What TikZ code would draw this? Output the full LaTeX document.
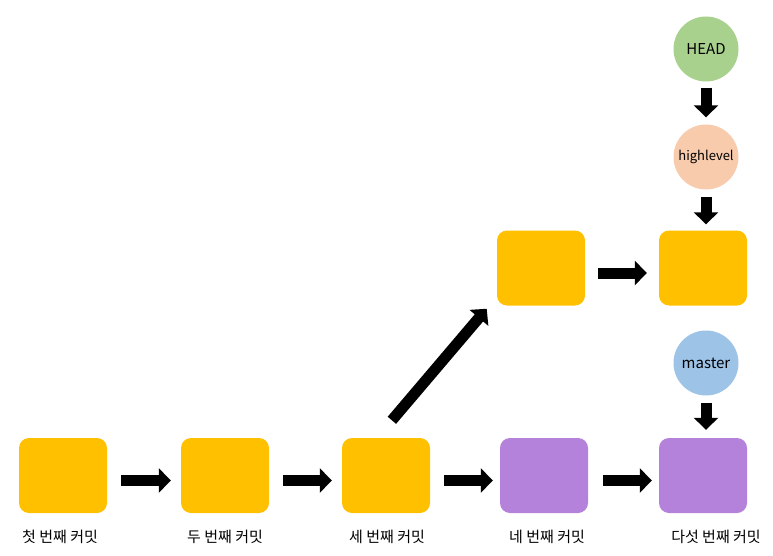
\documentclass[tikz,border=0pt]{standalone}
\usepackage{fontspec}
\setmainfont{Noto Sans CJK KR}
\usetikzlibrary{arrows.meta}
\definecolor{cOrange}{HTML}{FFC000}
\definecolor{cPurple}{HTML}{B482DA}
\definecolor{cGreen}{HTML}{A9D18E}
\definecolor{cPeach}{HTML}{F8CBAD}
\definecolor{cBlue}{HTML}{9DC3E6}
\tikzset{
  commit/.style={rounded corners=10pt, minimum width=88pt, minimum height=75pt, inner sep=0pt, draw=none},
  orangebox/.style={commit, fill=cOrange},
  purplebox/.style={commit, fill=cPurple},
  refcircle/.style={circle, minimum size=65pt, inner sep=0pt, draw=none, font=\fontsize{15pt}{17pt}\selectfont},
  lbl/.style={font=\fontsize{15pt}{17pt}\selectfont, inner sep=0pt},
  blockarrow/.style={line width=11pt, -{Triangle[length=12pt,width=24pt]}},
}
\begin{document}
\begin{tikzpicture}[x=1pt,y=-1pt]
\useasboundingbox (0,0) rectangle (773,556);
% commits
\node[orangebox] (c1) at (63,475.5) {};
\node[orangebox] (c2) at (225,475.5) {};
\node[orangebox] (c3) at (386,475.5) {};
\node[purplebox] (c4) at (544,475.5) {};
\node[purplebox] (c5) at (703,475.5) {};
\node[orangebox] (t1) at (541,268) {};
\node[orangebox] (t2) at (703,268) {};
% refs
\node[refcircle, fill=cGreen] (head) at (706,49) {HEAD};
\node[refcircle, fill=cPeach, font=\fontsize{13pt}{15pt}\selectfont] (hl) at (706,157) {highlevel};
\node[refcircle, fill=cBlue] (master) at (706,363) {master};
% labels
\node[lbl] (l1) at (60,537) {첫 번째 커밋};
\node[lbl] (l2) at (225,537) {두 번째 커밋};
\node[lbl] (l3) at (387,537) {세 번째 커밋};
\node[lbl] (l4) at (547,537) {네 번째 커밋};
\node[lbl] (l5) at (716,537) {다섯 번째 커밋};
% arrows
\draw[blockarrow, shorten <=14pt, shorten >=10pt] ([yshift=-5pt]c1.east) -- ([yshift=-5pt]c2.west);
\draw[blockarrow, shorten <=14pt, shorten >=10pt] ([yshift=-5pt]c2.east) -- ([yshift=-5pt]c3.west);
\draw[blockarrow, shorten <=14pt, shorten >=7pt] ([yshift=-5pt]c3.east) -- ([yshift=-5pt]c4.west);
\draw[blockarrow, shorten <=15pt, shorten >=7pt] ([yshift=-5pt]c4.east) -- ([yshift=-5pt]c5.west);
\draw[blockarrow, shorten <=13pt, shorten >=12pt] ([yshift=-5pt]t1.east) -- ([yshift=-5pt]t2.west);
\draw[blockarrow, shorten <=23pt, shorten >=4pt] ([xshift=-9pt]c3.north) -- ([xshift=-7.5pt]t1.south west);
\draw[blockarrow, shorten <=6pt, shorten >=7pt] (head.south) -- (hl.north);
\draw[blockarrow, shorten <=7pt, shorten >=6pt] (hl.south) -- (hl.south |- t2.north);
\draw[blockarrow, shorten <=7pt, shorten >=8pt] (master.south) -- (master.south |- c5.north);
\end{tikzpicture}
\end{document}
